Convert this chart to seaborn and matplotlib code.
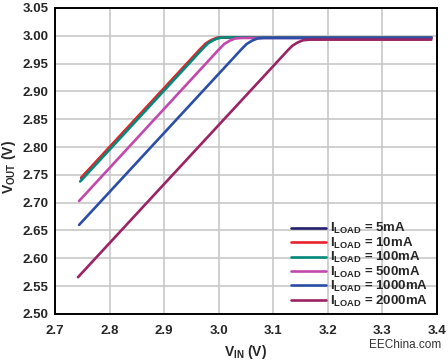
import pandas as pd
import seaborn as sns
import matplotlib.pyplot as plt

# load currents (legend order)
loads = ['5mA', '10mA', '100mA', '500mA', '1000mA', '2000mA']
colors = ['#23206e', '#e8232b', '#008a7a', '#c248ac', '#2c4ea6', '#9b2365']

# VIN / VOUT points (start, knee, flat part)
vin_5 = [2.748, 2.953, 2.968, 2.978, 2.988, 2.998, 3.010, 3.028, 3.390]
vout_5 = [2.744, 2.961, 2.976, 2.986, 2.992, 2.996, 2.997, 2.997, 2.997]
vin_10 = [2.748, 2.951, 2.966, 2.976, 2.986, 2.996, 3.008, 3.026, 3.390]
vout_10 = [2.745, 2.960, 2.976, 2.986, 2.992, 2.996, 2.997, 2.997, 2.997]
vin_100 = [2.746, 2.955, 2.970, 2.980, 2.990, 3.000, 3.012, 3.030, 3.390]
vout_100 = [2.738, 2.960, 2.976, 2.986, 2.992, 2.996, 2.997, 2.997, 2.997]
vin_500 = [2.744, 2.985, 3.000, 3.010, 3.020, 3.030, 3.042, 3.060, 3.390]
vout_500 = [2.703, 2.959, 2.975, 2.985, 2.991, 2.995, 2.996, 2.996, 2.996]
vin_1000 = [2.744, 3.026, 3.041, 3.051, 3.061, 3.071, 3.083, 3.101, 3.390]
vout_1000 = [2.660, 2.959, 2.975, 2.985, 2.991, 2.995, 2.996, 2.996, 2.996]
vin_2000 = [2.742, 3.110, 3.125, 3.135, 3.145, 3.155, 3.167, 3.185, 3.390]
vout_2000 = [2.566, 2.956, 2.972, 2.982, 2.988, 2.992, 2.993, 2.993, 2.993]

vin = [vin_5, vin_10, vin_100, vin_500, vin_1000, vin_2000]
vout = [vout_5, vout_10, vout_100, vout_500, vout_1000, vout_2000]

rows = []
for load, xs, ys in zip(loads, vin, vout):
    for x, y in zip(xs, ys):
        rows.append({'load': load, 'vin': x, 'vout': y})
df = pd.DataFrame(rows)

sns.set_style("whitegrid", {'grid.color': '#c8c8c8', 'axes.edgecolor': 'black'})
plt.rcParams['font.family'] = ['Liberation Sans', 'DejaVu Sans']
plt.rcParams['font.weight'] = 'bold'
plt.rcParams['mathtext.default'] = 'regular'

fig = plt.figure(figsize=(4.48, 3.6), dpi=100)
ax = fig.add_axes([0.123, 0.128, 0.852, 0.85])

sns.lineplot(data=df, x='vin', y='vout', hue='load', hue_order=loads,
             palette=dict(zip(loads, colors)), sort=False, estimator=None,
             units='load', linewidth=1.9, ax=ax)

ax.set_xlim(2.7, 3.4)
ax.set_ylim(2.50, 3.05)
ax.set_xticks([2.7, 2.8, 2.9, 3.0, 3.1, 3.2, 3.3, 3.4])
ax.set_xticklabels(['2.7', '2.8', '2.9', '3.0', '3.1', '3.2', '3.3', '3.4'])
ax.set_yticks([2.50 + 0.05 * i for i in range(12)])
ax.set_yticklabels([f'{2.50 + 0.05 * i:.2f}' for i in range(12)])
ax.tick_params(axis='x', length=0, labelsize=9.5, pad=8)
ax.tick_params(axis='y', length=0, labelsize=9.5, pad=5)
for lab in ax.get_xticklabels() + ax.get_yticklabels():
    lab.set_fontweight('bold')
ax.grid(True, linewidth=1.2)
for s in ax.spines.values():
    s.set_linewidth(1.4)
    s.set_color('black')

ax.set_xlabel(r'V$_{\mathregular{IN}}$ (V)', fontsize=10, fontweight='bold', labelpad=4)
ax.set_ylabel(r'V$_{\mathregular{OUT}}$ (V)', fontsize=10, fontweight='bold')
ax.yaxis.set_label_coords(-0.098, 0.48)

handles, _ = ax.get_legend_handles_labels()
labels = [r'I$_{\mathregular{LOAD}}$ = ' + l for l in loads]
leg = ax.legend(handles, labels, loc='lower right', frameon=False, fontsize=9.5,
                handlelength=2.6, handletextpad=0.3, labelspacing=-0.05,
                borderaxespad=0.0, bbox_to_anchor=(0.99, 0.0))
for t in leg.get_texts():
    t.set_fontweight('bold')

fig.text(0.985, 0.025, 'EEChina.com', ha='right', va='bottom', fontsize=8.5,
         fontweight='normal', color='#333333')

fig.savefig('out.png', dpi=100)
